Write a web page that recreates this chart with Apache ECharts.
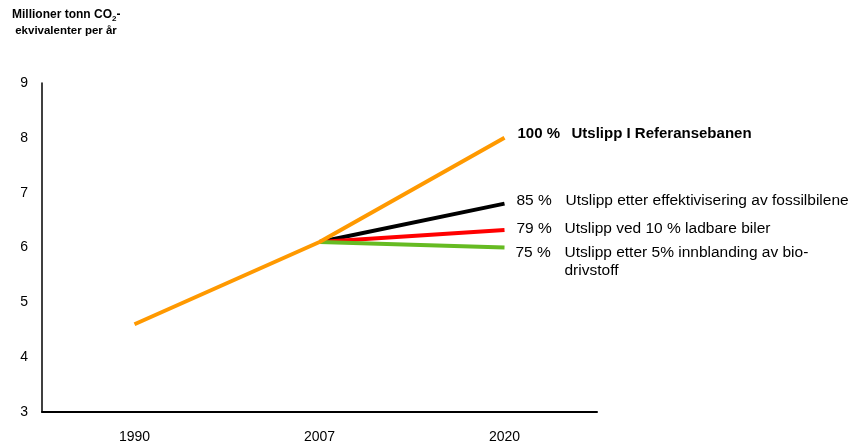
<!DOCTYPE html>
<html>
<head>
<meta charset="utf-8">
<script src="https://cdn.jsdelivr.net/npm/echarts@6/dist/echarts.min.js"></script>
<style>
  html, body { margin: 0; padding: 0; background: #fff; }
  #chart { width: 855px; height: 441px; }
</style>
</head>
<body>
<div id="chart"></div>
<script>
// Years on the x axis
const years = ['1990', '2007', '2020'];

// Emissions, million tonnes CO2-equivalents per year
const referanse = [4.6, 6.1, 8.0];
const effektivisering = [null, 6.1, 6.8];
const ladbare = [null, 6.1, 6.32];
const biodrivstoff = [null, 6.1, 6.0];

// End-of-line annotations: share of reference and description
const pctReferanse = '100 %';
const txtReferanse = 'Utslipp I Referansebanen';
const pctEffektivisering = '85 %';
const txtEffektivisering = 'Utslipp etter effektivisering av fossilbilene';
const pctLadbare = '79 %';
const txtLadbare = 'Utslipp ved 10 % ladbare biler';
const pctBio = '75 %';
const txtBio = ['Utslipp etter 5% innblanding av bio-', 'drivstoff'];

const FONT = '"Liberation Sans", Arial, sans-serif';

function endLabel(pctStr, lines, opts) {
  const rows = lines.map((t, i) => (i === 0 ? '{p|' + pctStr + '}' : '{p| }') + '{t|' + t + '}');
  const w = opts.bold ? 'bold' : 'normal';
  const fs = opts.fs || 15.5;
  return {
    show: true,
    distance: 12,
    offset: opts.offset || [0, 0],
    align: 'left',
    verticalAlign: 'middle',
    formatter: () => rows.join('\n'),
    rich: {
      p: { width: opts.pw, fontSize: fs, fontFamily: FONT, color: '#000', fontWeight: w, lineHeight: 18 },
      t: { fontSize: fs, fontFamily: FONT, color: '#000', fontWeight: w, lineHeight: 18 }
    }
  };
}

function lineSeries(name, data, color, label, z) {
  return {
    name, type: 'line', data, z,
    symbol: 'none',
    connectNulls: false,
    lineStyle: { color, width: 4 },
    endLabel: label,
    emphasis: { disabled: true }
  };
}

const chart = echarts.init(document.getElementById('chart'));
chart.setOption({
  animation: false,
  backgroundColor: '#fff',
  grid: { left: 42, right: 258, top: 83, bottom: 29, containLabel: false, outerBoundsMode: 'none' },
  title: {
    text: '{a|Millioner tonn CO}{s|2}{a|-}\n{b| ekvivalenter per år}',
    left: 7, top: 2,
    textStyle: {
      rich: {
        a: { fontSize: 12, fontWeight: 'bold', fontFamily: FONT, color: '#000', lineHeight: 16 },
        b: { fontSize: 11.5, fontWeight: 'bold', fontFamily: FONT, color: '#000', lineHeight: 16 },
        s: { fontSize: 8, fontWeight: 'bold', fontFamily: FONT, color: '#000', verticalAlign: 'bottom', padding: [5, 0, 0, 0] }
      }
    }
  },
  xAxis: {
    type: 'category',
    data: years,
    boundaryGap: true,
    axisLine: { lineStyle: { color: '#000', width: 2 } },
    axisTick: { show: false },
    axisLabel: { color: '#000', fontSize: 14, fontFamily: FONT, margin: 18 },
    splitLine: { show: false }
  },
  yAxis: {
    type: 'value',
    min: 3, max: 9, interval: 1,
    axisLine: { show: true, lineStyle: { color: '#000', width: 1.5 } },
    axisTick: { show: false },
    axisLabel: { color: '#000', fontSize: 14, fontFamily: FONT, margin: 14 },
    splitLine: { show: false }
  },
  series: [
    lineSeries('Effektivisering', effektivisering, '#000000',
      endLabel(pctEffektivisering, [txtEffektivisering], { pw: 49, offset: [0, -3] }), 2),
    lineSeries('Ladbare', ladbare, '#FF0000',
      endLabel(pctLadbare, [txtLadbare], { pw: 48, offset: [0, -1] }), 2),
    lineSeries('Biodrivstoff', biodrivstoff, '#66BB22',
      endLabel(pctBio, txtBio, { pw: 49, offset: [-1, 14] }), 2),
    lineSeries('Referanse', referanse, '#FF9900',
      endLabel(pctReferanse, [txtReferanse], { pw: 54, bold: true, fs: 15, offset: [1, -4] }), 3)
  ]
});
</script>
</body>
</html>
